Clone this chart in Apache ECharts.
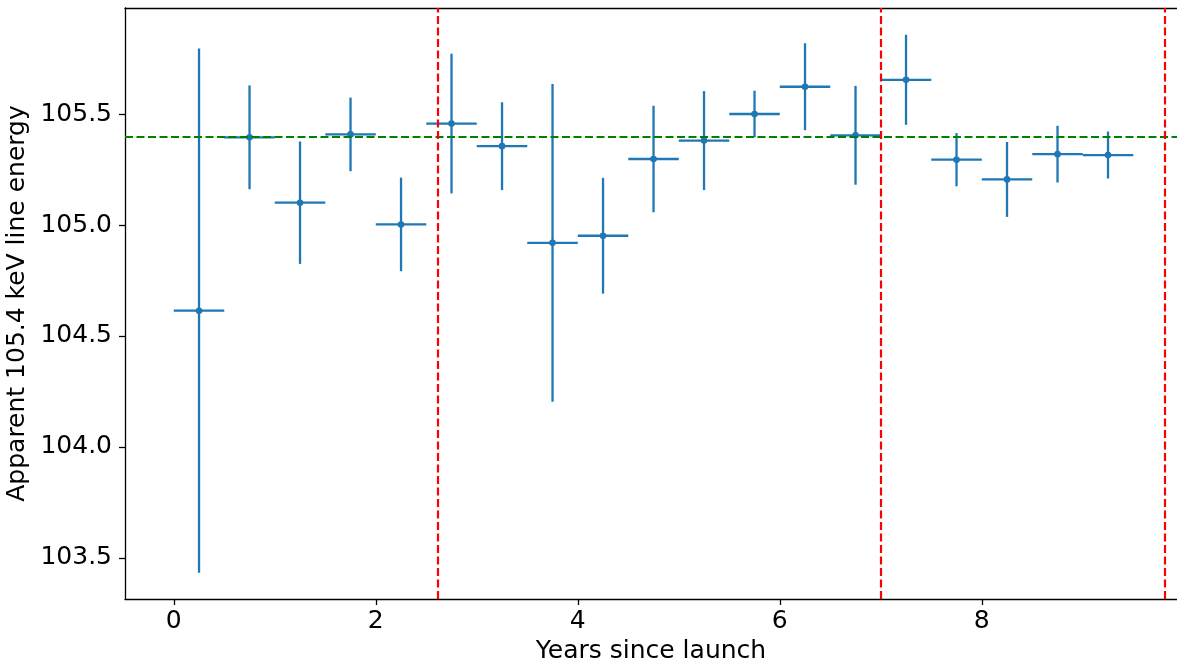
<!DOCTYPE html>
<html>
<head>
<meta charset="utf-8">
<script src="https://cdn.jsdelivr.net/npm/echarts@6/dist/echarts.min.js"></script>
<style>
html,body{margin:0;padding:0;background:#fff;}
#chart{width:1177px;height:669px;}
</style>
</head>
<body>
<div id="chart"></div>
<script>
const xCenters = [0.25, 0.75, 1.25, 1.75, 2.25, 2.75, 3.25, 3.75, 4.25, 4.75, 5.25, 5.75, 6.25, 6.75, 7.25, 7.75, 8.25, 8.75, 9.25];
const xErr = [0.25, 0.25, 0.25, 0.25, 0.25, 0.25, 0.25, 0.25, 0.25, 0.25, 0.25, 0.25, 0.25, 0.25, 0.25, 0.25, 0.25, 0.25, 0.25];
const yValues = [104.614, 105.396, 105.101, 105.409, 105.003, 105.458, 105.356, 104.920, 104.952, 105.298, 105.381, 105.501, 105.624, 105.405, 105.655, 105.295, 105.206, 105.320, 105.316];
const yErr = [1.182, 0.234, 0.276, 0.166, 0.211, 0.315, 0.198, 0.716, 0.261, 0.240, 0.223, 0.105, 0.196, 0.223, 0.203, 0.120, 0.169, 0.128, 0.106];
const refEnergy = 105.4;
const boundaryYears = [2.613, 7.005, 9.807];
const xTickValues = [0, 2, 4, 6, 8];
const yTickValues = [103.5, 104.0, 104.5, 105.0, 105.5];

const blue = '#1f77b4';
const font = 'DejaVu Sans';

const data = xCenters.map((x, i) => [x, yValues[i], xErr[i], yErr[i]]);

const chart = echarts.init(document.getElementById('chart'));
chart.setOption({
  animation: false,
  backgroundColor: '#fff',
  grid: {left: 125, top: 8, right: 0, bottom: 70, containLabel: false, outerBoundsMode: 'none'},
  xAxis: [{
    type: 'value', min: -0.483, max: 9.933,
    name: 'Years since launch', nameLocation: 'middle', nameGap: 40,
    nameTextStyle: {fontFamily: font, fontSize: 25, color: '#000'},
    axisLine: {show: true, onZero: false, lineStyle: {color: '#000', width: 1.3}},
    axisTick: {show: true, length: 6, lineStyle: {color: '#000', width: 1.3}, customValues: xTickValues},
    axisLabel: {fontFamily: font, fontSize: 25, color: '#000', margin: 10, customValues: xTickValues},
    splitLine: {show: false}
  }, {
    type: 'value', min: -0.483, max: 9.933, position: 'top',
    axisLine: {show: true, onZero: false, lineStyle: {color: '#000', width: 1.3}},
    axisTick: {show: false}, axisLabel: {show: false}, splitLine: {show: false}
  }],
  yAxis: {
    type: 'value', min: 103.314, max: 105.979,
    name: 'Apparent 105.4 keV line energy', nameLocation: 'middle', nameGap: 87,
    nameTextStyle: {fontFamily: font, fontSize: 25, color: '#000'},
    axisLine: {show: true, onZero: false, lineStyle: {color: '#000', width: 1.3}},
    axisTick: {show: true, length: 6, lineStyle: {color: '#000', width: 1.3}, customValues: yTickValues},
    axisLabel: {fontFamily: font, fontSize: 25, color: '#000', margin: 13, customValues: yTickValues,
      formatter: v => v.toFixed(1)},
    splitLine: {show: false}
  },
  series: [{
    type: 'custom',
    data: data,
    clip: true,
    z: 3,
    renderItem: function (params, api) {
      const x = api.value(0), y = api.value(1), xe = api.value(2), ye = api.value(3);
      const pL = api.coord([x - xe, y]);
      const pR = api.coord([x + xe, y]);
      const pT = api.coord([x, y + ye]);
      const pB = api.coord([x, y - ye]);
      const pC = api.coord([x, y]);
      const st = {stroke: blue, lineWidth: 2.3, fill: null};
      return {
        type: 'group',
        children: [
          {type: 'line', shape: {x1: pL[0], y1: pL[1], x2: pR[0], y2: pR[1]}, style: st},
          {type: 'line', shape: {x1: pT[0], y1: pT[1], x2: pB[0], y2: pB[1]}, style: st},
          {type: 'circle', shape: {cx: pC[0], cy: pC[1], r: 3.3}, style: {fill: blue}}
        ]
      };
    }
  }, {
    type: 'line',
    data: [],
    silent: true,
    markLine: {
      silent: true,
      symbol: 'none',
      label: {show: false},
      animation: false,
      data: [
        {yAxis: refEnergy, lineStyle: {color: '#008000', type: [8, 3.5], width: 2.2}},
        ...boundaryYears.map(v => ({xAxis: v, lineStyle: {color: '#ff0000', type: [8, 3.5], width: 2.2}}))
      ]
    }
  }]
});
</script>
</body>
</html>
